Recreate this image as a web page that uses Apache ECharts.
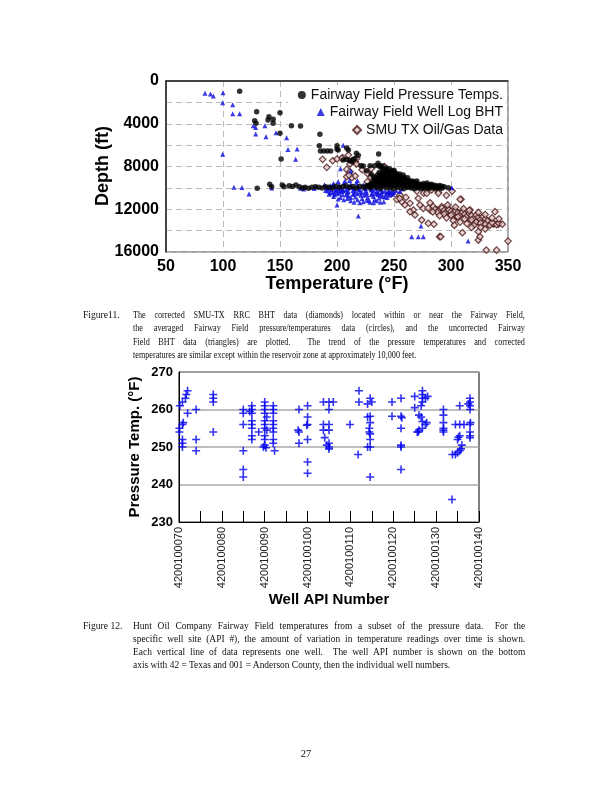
<!DOCTYPE html>
<html>
<head>
<meta charset="utf-8">
<script src="https://cdn.jsdelivr.net/npm/echarts@6/dist/echarts.min.js"></script>
<style>
html,body{margin:0;padding:0;background:#fff;}
#chart{position:absolute;left:0;top:0;width:612px;height:792px;}
.cap{position:absolute;left:83px;width:442px;font-family:'Liberation Serif','Times New Roman',serif;font-size:9.6px;line-height:13.3px;color:#111;}
.cap .lab{position:absolute;left:0;top:0;}
.cap .body{position:absolute;left:50px;top:0;transform-origin:0 0;}
.cap .j{text-align:justify;text-align-last:justify;}
#c11 .body{width:461px;transform:scaleX(0.85);}
#c12{font-size:9.6px;line-height:13px;}
#c12 .body{width:399px;transform:scaleX(0.983);}
#pg{position:absolute;left:0;width:612px;top:748px;text-align:center;font-family:'Liberation Serif',serif;font-size:10.5px;color:#111;}
</style>
</head>
<body>
<div id="chart"></div>
<div class="cap" id="c11" style="top:308px">
  <span class="lab">Figure11.</span>
  <div class="body">
    <div class="j">The corrected SMU-TX RRC BHT data (diamonds) located within or near the Fairway Field,</div>
    <div class="j">the averaged Fairway Field pressure/temperatures data (circles), and the uncorrected Fairway</div>
    <div class="j">Field BHT data (triangles) are plotted.&nbsp; The trend of the pressure temperatures and corrected</div>
    <div>temperatures are similar except within the reservoir zone at approximately 10,000 feet.</div>
  </div>
</div>
<div class="cap" id="c12" style="top:619px">
  <span class="lab">Figure 12.</span>
  <div class="body">
    <div class="j">Hunt Oil Company Fairway Field temperatures from a subset of the pressure data.&nbsp; For the</div>
    <div class="j">specific well site (API #), the amount of variation in temperature readings over time is shown.</div>
    <div class="j">Each vertical line of data represents one well.&nbsp; The well API number is shown on the bottom</div>
    <div>axis with 42 = Texas and 001 = Anderson County, then the individual well numbers.</div>
  </div>
</div>
<div id="pg">27</div>
<script>
// ---------- Figure 11 data: [temperature °F, depth ft] ----------
const tempTicks = [50, 100, 150, 200, 250, 300, 350];
const depthTicks = [0, 4000, 8000, 12000, 16000];
const legendNames = ['Fairway Field Pressure Temps.', 'Fairway Field Well Log BHT', 'SMU TX Oil/Gas Data'];

const pressureTemps = [
[114.6,970],[129.5,2870],[140.3,3340],[139.5,3650],[144,3590],[144,3960],[150,2960],[127.8,3710],[129,3960],[150,4900],[160,4180],[168,4210],[185,4990],
[151,7300],[184.5,6050],[185.5,6550],[188.5,6550],[191.5,6550],[194.5,6550],[200,6370],[208.5,6270],[200,6050],[201,6460],[210,6460],[217,6770],[218.7,6950],[215.8,7240],[213,7550],[205.5,7400],[208.5,7350],[211,7450],[214,7350],[236.5,6830],[221,7930],[229,7930],[233,7930],[236.5,7930],[239.5,7930],
[130,10040],[141,9670],[142.7,9890],[152,9730],[153.5,9890],[158,9800],[161,9860],[164,9730],[167,9900],[170,10000],[172,9950],[175,10040],[178,9950],[181,9890],[184,9950],[187,10000],[190,9900],[193,9950],[196,10000],[199,9850],[202,9950],[205,9900],[208,9800],[211,9950],[214,9880],[217,10000],[220,9850],[223,9950],[226,9900],[229,10000],[232,9860],[235,9950],[238,10050],[241,9900],[244,10000],[247,9950],[250,10050],[253,9950],[256,10000],[259,10060],[262,9950],[265,10020],[268,10080],[271,9980],[274,10050],[277,10000],[280,10060],[283,10000],[286,10050],[289,10000],[292,10040],[297.6,9990],
[236,7700],[240,8250],[243,8300],[246,8200],[248,8400],[237,8550],[240,8650],[243,8600],[246,8700],[249,8580],[252,8650],[235,8900],[238,8850],[241,8950],[244,8900],[247,8850],[250,8950],[253,8900],[256,9000],[233,9200],[236,9250],[239,9150],[242,9200],[245,9300],[248,9200],[251,9250],[254,9150],[257,9300],[260,9200],[263,9300],[266,9350],[231,9500],[234,9550],[237,9450],[240,9500],[243,9600],[246,9500],[249,9550],[252,9450],[255,9600],[258,9500],[261,9550],[264,9600],[267,9500],[270,9600],[273,9650],[276,9600],[228,9750],[232,9700],[236,9800],[240,9750],[244,9700],[248,9800],[252,9750],[256,9700],[260,9800],[264,9750],[268,9800],[272,9750],[276,9800],[280,9750],[284,9800],[288,9850],[292,9850],
[226,8400],[230,8700],[232,9000],[255,8700],[259,9000],[270,9350],[279,9550],[283,9650],[223,7960],[243,8150],[250,8350],[258,8800],[262,9050],
[238,8050],[241,8400],[244,8450],[247,8550],[250,8500],[238,8700],[242,8750],[245,8800],[248,8750],[251,8800],[254,8850],[234,9050],[237,9050],[240,9050],[243,9050],[246,9050],[249,9100],[252,9050],[255,9100],[258,9150],[235,9380],[238,9350],[241,9400],[244,9420],[247,9380],[250,9400],[253,9350],[256,9400],[259,9380],[262,9420],[265,9450],[268,9450],[230,9620],[234,9650],[238,9630],[242,9680],[246,9650],[250,9650],[254,9680],[258,9650],[262,9700],[266,9680],[270,9720],[274,9720],[278,9700],[282,9740],[286,9760],[290,9780],[294,9900],[226,9800],[230,9850],[262,9880],[266,9900],[270,9880],[274,9900],[278,9900],[282,9900],[286,9920],[290,9940]
];

const wellLogBHT = [
[84.2,1150],[89,1220],[91.5,1400],[100,1100],[99.7,2030],[108.5,2220],[108.5,3060],[114.6,3060],[126.6,4180],[128.7,4340],[136.8,4180],[128.7,4960],[137.7,5210],[146.5,4840],[155.8,5300],[157,6400],[165,6370],[163.7,7330],[99.7,6860],[205.5,6020],[203,8210],[212,8420],
[109.6,9950],[116.6,9970],[122.8,10580],[142.7,10020],[168,10040],[171,10100],[180,10050],[182,9890],[200,11600],[218.7,12640],[273.7,13570],[265.5,14570],[271.3,14570],[275.7,14570],[315,14980],[300.6,9990],
[189,9700],[191,10000],[192,10300],[194,9800],[195,10150],[196,10450],[197,9600],[198,9900],[199,10200],[200,10500],[201,9400],[202,9750],[203,10050],[204,10350],[205,10650],[206,9550],[207,9850],[208,10150],[209,10450],[210,10750],[211,9300],[212,9650],[213,9950],[214,10250],[215,10550],[216,10850],[217,9500],[218,9800],[219,10100],[220,10400],[221,10700],[222,11000],[223,9700],[224,10000],[225,10300],[226,10600],[227,10900],[228,11200],[229,9900],[230,10200],[231,10500],[232,10800],[233,11100],[234,10050],[235,10350],[236,10650],[237,10950],[238,10200],[239,10500],[240,10800],[241,11300],[242,10300],[243,10600],[244,10900],[245,10400],[246,10700],[247,10500],[249,10600],[250,10400],
[193,10600],[197,10800],[201,11050],[203,10900],[206,11100],[209,11000],[212,11200],[215,11350],[218,11100],[220,11400],[223,11300],[226,11150],[229,11350],[232,11400],[235,11200],[238,11350],[212,10900],[200,10100],[205,10200],[210,10000],[215,10100],[220,10150],[225,10050],[230,10100],[192,10050],[196,9750],[218,9300],[207,9350],[252,10250],[255,10350],[257,10100],
[190,10250],[194,10450],[198,10650],[202,10500],[206,10300],[210,10350],[214,10600],[218,10550],[222,10450],[226,10400],[230,10650],[234,10550],[238,10700],[242,10850],[246,10300],[198,10350],[202,10250],[208,10650],[216,10350],[224,10700],[232,10300],[236,10450],[240,10350],[244,10450],[248,10350]
];

const smuOilGas = [
[187.4,7330],[196.2,7460],[191,8080],[205,7180],[208.5,8270],[211.4,7770],[216,7550],[217,7770],[208.5,8950],[213,9050],[216,8890],[226.6,8640],[229.8,9010],[233.3,9270],[234.8,8890],[241.8,8020],[204,7240],[210,6930],[214.3,7460],[217.3,7240],[211.4,8490],[210.5,8800],[226.6,9420],[200,7300],[222,8300],[230,8200],[245,8500],[250,8700],
[256,9400],[262,9700],[270,10300],[276,10500],[283,10200],[289,10400],[296,10700],[301,10300],[308.8,11070],
[248,10510],[252.4,11070],[255.3,10670],[256.8,11300],[260.5,10890],[264,11450],[267,12070],[271.3,10980],[272.8,11600],[275.7,11920],[278.7,10510],[281.6,11390],[284.5,11760],[288.9,10510],[287.5,12070],[291.8,11760],[293.3,12230],[297.6,11920],[299,12380],[303.5,12070],[305,12700],[308,11070],[309.4,12230],[312.3,12540],[315.2,12850],[316.7,12070],[319.6,13160],[322.5,12700],[325.4,13320],[328.3,13160],[331.3,13480],[334.2,13260],[337.1,13380],[341.5,13410],[338.6,12230],[324,14880],[325.4,14570],[290,14570],[331,15820],[340,15820],[350,14980],
[259.6,11600],[264,12230],[268.4,12540],[274.3,13010],[280.1,13320],[291,14570],[255,10980],
[286,12000],[289,12150],[292,11900],[294,12100],[296,12300],[298,12050],[300,12200],[302,12400],[304,12150],[306,12350],[308,12550],[310,12300],[312,12450],[314,12650],[316,12400],[318,12600],[320,12850],[322,12550],[324,12750],[326,12950],[328,12700],[330,12900],[332,13100],[318,13000],[322,13200],[326,13300],[330,13400],[334,13500],[338,13350],[340,13450],[342,13300],[336,13250],[312,12900],[306,12700],[300,12550],[294,12450],[288,12300],[282,12100],[280,11900],[284,12250],[290,12600],[296,12800],[302,13050],[308,13200],[314,13350],[320,13500],[326,13700],[330,13850],[324,14100],[318,13700],[297,11600],[304,11800],[311,11950],[316,12100],[324,12300],[330,12500],[336,12800],[342,12900],[345,13400],[310,14200],[303,13500],[285,13400]
];

// ---------- Figure 12 data: [well number (last digits of API), temperature °F] ----------
const pressTempTicks = [230, 240, 250, 260, 270];
const wellTickLabels = ['4200100070','4200100080','4200100090','4200100100','4200100110','4200100120','4200100130','4200100140'];
const wellTemps = [
[70.1,255],[70.1,254],[70.2,261],
[70.8,262],[70.8,256],[70.8,252],[70.8,251],[70.8,250],[71,256.5],
[72,265],[71.7,264],[71.5,263],[72,259],
[74,260],[74,252],[74,249],
[78,264],[78,263],[78,262],[78,254],
[85,260],[85,259],[85,256],[85,249],[85,244],[85,242],
[87,261],[87,260],[87,259],[87,257],[87,256],[87,255],[87,253],[87,252],[86.5,259.5],
[88.6,254],
[90,262],[90,261],[90,260],[90,259],[90,257],[90,256],[90,255],[90,253],[90,252],[90,250.5],[89.7,250],[90.3,249.8],[90.5,258],[90.5,254.5],
[92,261],[92,260],[92,259],[92,257],[92,256],[92,255],[92,254],[92,252],[92,251],[92.3,249],
[98,260],[98,254],[98,251],[97.8,254.5],
[100,261],[100,258],[100,256],[100,252],[100,246],[100,243],[99.8,255.8],
[103.7,262],[105,262],[106,262],[105,260],[103.7,256],[105,256],[103.7,254.5],[105,254.5],[104,252.5],[105,251],[105,250],[105,249.5],[104.5,250.5],
[109.9,256],
[112,265],[112,262],[111.8,248],
[114.6,263],[114,261.5],[115,262],[114.6,258.2],[114,258],[114.6,256.5],[114.4,255],[114.4,254],[114.6,253.5],[114.6,252],[114.6,250],[114,250],[114.6,242],
[119.7,262],[119.7,258.2],
[121.8,263],[121.8,258.2],[122,257.8],[121.8,255],[121.8,250],[121.8,250.5],[121.8,244],
[125,263.5],[125,260.5],[126.8,265],[126.8,264],[126.8,263],[127.5,263],[126.8,262],[126.5,261],[126,258.5],[126.5,258],[126.8,256.8],[127.8,256.5],[127.5,256],[126.8,255],[126,254.5],[125.8,254],[125.6,254],[128,263.5],
[131.7,260],[131.7,258.5],[131.7,256.5],[131.7,255],[131.7,254],[131.7,254.5],
[133.7,236],[133.8,248],[134.5,248],[135,248.5],[135.5,249],[135.8,249.5],[136,250.5],[135,252],[135.5,253],[134.5,256],[135.5,256],[136.5,256],[135.5,261],[135.2,252.6],
[137.9,263],[137.9,262],[137.9,261],[137.9,260],[137.9,256],[137.9,254],[137.9,253],[137.9,252.5],[138,256.5],[137.5,261.5]
];

const FONT = "'Liberation Sans', Arial, sans-serif";
const plusPath = 'path://M4,0H6V4H10V6H6V10H4V6H0V4H4Z';

const chart = echarts.init(document.getElementById('chart'), null, {renderer: 'canvas'});

function legendItem(name, top) {
  return {
    data: [name], orient: 'horizontal', right: 109, top: top, padding: 0,
    itemWidth: 8, itemHeight: 8, itemGap: 0, selectedMode: false,
    textStyle: {fontFamily: FONT, fontSize: 14, color: '#111'}, z: 5
  };
}

const option = {
  animation: false,
  backgroundColor: '#fff',
  grid: [
    {left: 166, top: 81, width: 342, height: 171, show: true, borderColor: '#444', borderWidth: 1, backgroundColor: 'transparent'},
    {left: 179, top: 372, width: 300, height: 150, show: true, borderColor: '#000', borderWidth: 1, backgroundColor: 'transparent'}
  ],
  legend: [
    legendItem(legendNames[0], 88),
    legendItem(legendNames[1], 105),
    legendItem(legendNames[2], 123)
  ],
  xAxis: [
    {gridIndex: 0, type: 'value', min: 50, max: 350, interval: 50,
     axisLine: {show: true, lineStyle: {color: '#222', width: 1.5}}, axisTick: {show: false},
     axisLabel: {margin: 7, fontFamily: FONT, fontSize: 16, fontWeight: 'bold', color: '#000',
       formatter: v => tempTicks.includes(v) ? String(v) : ''},
     splitLine: {show: true, lineStyle: {color: '#bbb', type: [6, 4], width: 1}}},
    {gridIndex: 1, type: 'value', min: 70, max: 140, interval: 5,
     axisLine: {show: true, lineStyle: {color: '#000', width: 1}},
     axisTick: {show: true, inside: true, length: 11, lineStyle: {color: '#000', width: 1}},
     axisLabel: {margin: 5, rotate: 90, fontFamily: FONT, fontSize: 11, color: '#222',
       formatter: v => (v % 10 === 0) ? wellTickLabels[(v - 70) / 10] : ''},
     splitLine: {show: false}}
  ],
  yAxis: [
    {gridIndex: 0, type: 'value', inverse: true, min: 0, max: 16000, interval: 2000,
     axisLine: {show: true, lineStyle: {color: '#222', width: 1.5}}, axisTick: {show: false},
     axisLabel: {margin: 7, fontFamily: FONT, fontSize: 16, fontWeight: 'bold', color: '#000',
       formatter: v => depthTicks.includes(v) ? String(v) : ''},
     splitLine: {show: true, lineStyle: {color: '#bbb', type: [6, 4], width: 1}}},
    {gridIndex: 1, type: 'value', min: 230, max: 270, interval: 10,
     axisLine: {show: true, lineStyle: {color: '#000', width: 1}}, axisTick: {show: false},
     axisLabel: {margin: 6, fontFamily: FONT, fontSize: 13, fontWeight: 'bold', color: '#000',
       formatter: v => pressTempTicks.includes(v) ? String(v) : ''},
     splitLine: {show: true, lineStyle: {color: '#aaa', width: 1.5}}}
  ],
  graphic: [
    {type: 'rect', z: 1, shape: {x: 288, y: 85, width: 218, height: 54}, style: {fill: '#fff'}},
    {type: 'text', x: 103, y: 166, rotation: Math.PI / 2,
     style: {text: 'Depth (ft)', fontFamily: FONT, fontSize: 18, fontWeight: 'bold', fill: '#000', textAlign: 'center', textVerticalAlign: 'middle'}},
    {type: 'text', x: 337, y: 284,
     style: {text: 'Temperature (°F)', fontFamily: FONT, fontSize: 18, fontWeight: 'bold', fill: '#000', textAlign: 'center', textVerticalAlign: 'middle'}},
    {type: 'text', x: 135, y: 447, rotation: Math.PI / 2,
     style: {text: 'Pressure Temp. (°F)', fontFamily: FONT, fontSize: 15, fontWeight: 'bold', fill: '#000', textAlign: 'center', textVerticalAlign: 'middle'}},
    {type: 'text', x: 329, y: 600,
     style: {text: 'Well API Number', fontFamily: FONT, fontSize: 15, fontWeight: 'bold', fill: '#000', textAlign: 'center', textVerticalAlign: 'middle'}}
  ],
  series: [
    {name: legendNames[2], type: 'scatter', xAxisIndex: 0, yAxisIndex: 0, data: smuOilGas,
     symbol: 'diamond', symbolSize: 6.5, z: 2,
     itemStyle: {color: '#e2cccc', borderColor: '#4e1818', borderWidth: 1.2}},
    {name: legendNames[1], type: 'scatter', xAxisIndex: 0, yAxisIndex: 0, data: wellLogBHT,
     symbol: 'triangle', symbolSize: 5, z: 3,
     itemStyle: {color: '#0a0adf'}},
    {name: legendNames[0], type: 'scatter', xAxisIndex: 0, yAxisIndex: 0, data: pressureTemps,
     symbol: 'circle', symbolSize: 5.5, z: 4,
     itemStyle: {color: '#000'}},
    {name: 'Well temps', type: 'scatter', xAxisIndex: 1, yAxisIndex: 1, data: wellTemps,
     symbol: plusPath, symbolSize: 8,
     itemStyle: {color: '#0000ee'}}
  ]
};
chart.setOption(option);
</script>
</body>
</html>
